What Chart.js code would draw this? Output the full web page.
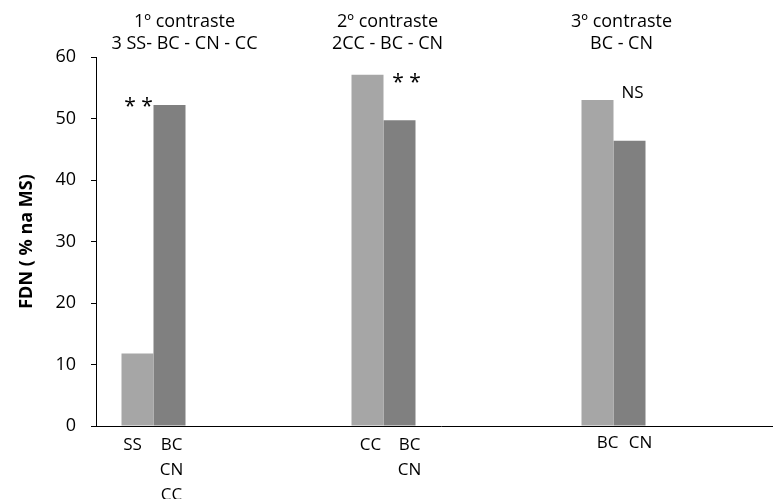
<!DOCTYPE html>
<html><head><meta charset="utf-8">
<script src="https://cdn.jsdelivr.net/npm/chart.js@4"></script>
<style>
html,body{margin:0;padding:0;background:#fff;overflow:hidden;}
#wrap{width:773px;height:499px;overflow:hidden;position:relative;}
canvas{display:block;}
</style></head><body>
<div id="wrap"><canvas id="c" width="790" height="499"></canvas></div>
<script>
// ---- data ----
const contrastTitles = ["1º contraste", "2º contraste", "3º contraste"];
const contrastSubtitles = ["3 SS- BC - CN - CC", "2CC - BC - CN", "BC - CN"];
const lightValues = [11.8, 57.1, 53.0];
const darkValues = [52.2, 49.7, 46.4];
const lightLabels = [["SS"], ["CC"], ["BC"]];
const darkLabels = [["BC", "CN", "CC"], ["BC", "CN"], ["CN"]];
const significance = ["* *", "* *", "NS"];
const yTickValues = [0, 10, 20, 30, 40, 50, 60];
const yAxisTitle = "FDN ( % na MS)";

// ---- style (offsets) ----
const FONT = "'Open Sans', sans-serif";
const titleDx = [31, 4, 8];
const lightLabelDx = [-5, 3, 10];
const darkLabelDx = [2, 10, 11];
const labelRowDy = [19, 19, 17];
const sigAnchor = [0, 1, 1];   // which bar the mark sits over
const sigDx = [1, 7, 3];
const sigDy = [2, 8, -7];
const sigFont = ["21px " + FONT, "21px " + FONT, "17px " + FONT];

// build slots: each contrast followed by an empty slot
const slotLabels = [], slotLight = [], slotDark = [];
contrastTitles.forEach((t, i) => {
  slotLabels.push(t, "");
  slotLight.push(lightValues[i], null);
  slotDark.push(darkValues[i], null);
});

const annotations = {
  id: "annotations",
  afterDatasetsDraw(chart) {
    const ctx = chart.ctx;
    const ys = chart.scales.y;
    const m0 = chart.getDatasetMeta(0).data;
    const m1 = chart.getDatasetMeta(1).data;
    const base = ys.getPixelForValue(0);
    ctx.save();
    ctx.fillStyle = "#000";
    ctx.textAlign = "center";
    ctx.textBaseline = "middle";
    contrastTitles.forEach((t, i) => {
      const b0 = m0[2 * i], b1 = m1[2 * i];
      const gx = (b0.x + b1.x) / 2;
      ctx.font = "18px " + FONT;
      ctx.fillText(t, gx + titleDx[i], 22);
      ctx.fillText(contrastSubtitles[i], gx + titleDx[i], 44);
      // bar labels
      ctx.font = "17px " + FONT;
      lightLabels[i].forEach((s, k) => ctx.fillText(s, b0.x + lightLabelDx[i], base + labelRowDy[i] + k * 25));
      darkLabels[i].forEach((s, k) => ctx.fillText(s, b1.x + darkLabelDx[i], base + labelRowDy[i] + k * 25));
      // significance
      const top = ys.getPixelForValue(Math.max(lightValues[i], darkValues[i]));
      const ax = (sigAnchor[i] === 0 ? b0.x : b1.x) + sigDx[i];
      ctx.font = sigFont[i];
      ctx.fillText(significance[i], ax, top + sigDy[i]);
    });
    ctx.restore();
  }
};

new Chart(document.getElementById("c"), {
  type: "bar",
  data: {
    labels: slotLabels,
    datasets: [
      { data: slotLight, backgroundColor: "#a6a6a6", borderWidth: 0 },
      { data: slotDark, backgroundColor: "#808080", borderWidth: 0 }
    ]
  },
  options: {
    responsive: false,
    devicePixelRatio: 1,
    animation: false,
    layout: { padding: { left: 0, right: 4, top: 57, bottom: 73 } },
    categoryPercentage: 64 / 115,
    barPercentage: 1,
    plugins: { legend: { display: false }, tooltip: { enabled: false } },
    scales: {
      x: {
        type: "category",
        offset: true,
        grid: { display: false },
        ticks: { display: false },
        border: { display: true, color: "#000", width: 1 },
        afterFit(s) { s.height = 0; }
      },
      y: {
        min: 0, max: 60,
        afterBuildTicks(s) { s.ticks = yTickValues.map(v => ({ value: v })); },
        ticks: { color: "#000", font: { family: FONT, size: 18 }, padding: 15 },
        grid: { drawOnChartArea: false, drawTicks: true, tickLength: 5, color: "#000", lineWidth: 1 },
        border: { display: true, color: "#000", width: 1 },
        title: { display: true, text: yAxisTitle, color: "#000", font: { family: FONT, size: 18, weight: "bold" }, padding: { top: 16, bottom: 0 } },
        afterFit(s) { s.width = 96; }
      }
    }
  },
  plugins: [annotations]
});
</script>
</body></html>
